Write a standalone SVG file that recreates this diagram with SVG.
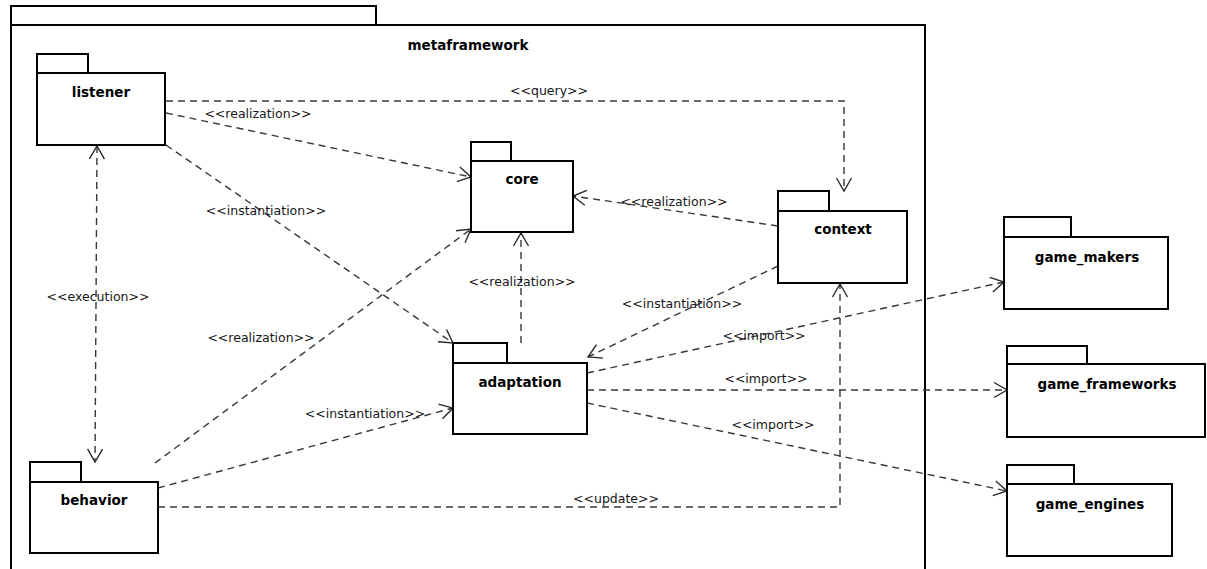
<svg xmlns="http://www.w3.org/2000/svg" width="1207" height="569" viewBox="0 0 1207 569">
  <style>
    .pkg { fill: #ffffff; stroke: #000000; stroke-width: 2; }
    .name { font-family: "DejaVu Sans", "Liberation Sans", sans-serif; font-weight: bold; font-size: 13.5px; fill: #000000; text-anchor: middle; }
    .dep { fill: none; stroke: #35373f; stroke-width: 1.4; stroke-dasharray: 7 5; }
    .lbl { font-family: "DejaVu Sans", "Liberation Sans", sans-serif; font-size: 12.5px; fill: #161616; text-anchor: middle; }
  </style>
  <defs>
    <marker id="open" viewBox="-14 -9 16 18" refX="0" refY="0" markerWidth="16" markerHeight="18" markerUnits="userSpaceOnUse" orient="auto-start-reverse" overflow="visible">
      <path d="M-13,-7.5 L0,0 L-13,7.5" fill="none" stroke="#2a2a2a" stroke-width="1.4"/>
    </marker>
  </defs>
  <rect width="1207" height="569" fill="#ffffff"/>

  <!-- enclosing package -->
  <g id="metaframework">
    <rect class="pkg" x="11" y="6" width="365" height="19"/>
    <rect class="pkg" x="11" y="25" width="914" height="560"/>
    <text class="name" x="468" y="50">metaframework</text>
  </g>

  <!-- dependencies -->
  <g id="connectors">
    <path class="dep" d="M166,101 H844 V191" marker-end="url(#open)"/>
    <path class="dep" d="M166,113 L471,177" marker-end="url(#open)"/>
    <path class="dep" d="M166,145 L453,343" marker-end="url(#open)"/>
    <path class="dep" d="M97,146 L95,462" marker-start="url(#open)" marker-end="url(#open)"/>
    <path class="dep" d="M155,463 L471,229" marker-end="url(#open)"/>
    <path class="dep" d="M158,488 L453,408" marker-end="url(#open)"/>
    <path class="dep" d="M158,507 H840 V284" marker-end="url(#open)"/>
    <path class="dep" d="M778,226 L573,196" marker-end="url(#open)"/>
    <path class="dep" d="M778,266 L588,357" marker-end="url(#open)"/>
    <path class="dep" d="M521,343 L521,233" marker-end="url(#open)"/>
    <path class="dep" d="M587,373 L1004,282" marker-end="url(#open)"/>
    <path class="dep" d="M587,390 L1007,390" marker-end="url(#open)"/>
    <path class="dep" d="M587,403 L1007,491" marker-end="url(#open)"/>

    <text class="lbl" x="549" y="95">&lt;&lt;query&gt;&gt;</text>
    <text class="lbl" x="258" y="118">&lt;&lt;realization&gt;&gt;</text>
    <text class="lbl" x="266" y="215">&lt;&lt;instantiation&gt;&gt;</text>
    <text class="lbl" x="98" y="301">&lt;&lt;execution&gt;&gt;</text>
    <text class="lbl" x="261" y="342">&lt;&lt;realization&gt;&gt;</text>
    <text class="lbl" x="365" y="418">&lt;&lt;instantiation&gt;&gt;</text>
    <text class="lbl" x="674" y="206">&lt;&lt;realization&gt;&gt;</text>
    <text class="lbl" x="522" y="286">&lt;&lt;realization&gt;&gt;</text>
    <text class="lbl" x="682" y="308">&lt;&lt;instantiation&gt;&gt;</text>
    <text class="lbl" x="764" y="340">&lt;&lt;import&gt;&gt;</text>
    <text class="lbl" x="766" y="383">&lt;&lt;import&gt;&gt;</text>
    <text class="lbl" x="773" y="429">&lt;&lt;import&gt;&gt;</text>
    <text class="lbl" x="616" y="503">&lt;&lt;update&gt;&gt;</text>
  </g>

  <!-- packages -->
  <g id="listener">
    <rect class="pkg" x="37" y="54" width="51" height="19"/>
    <rect class="pkg" x="37" y="73" width="128" height="72"/>
    <text class="name" x="101" y="97">listener</text>
  </g>
  <g id="behavior">
    <rect class="pkg" x="30" y="462" width="51" height="20"/>
    <rect class="pkg" x="30" y="482" width="128" height="71"/>
    <text class="name" x="94" y="505">behavior</text>
  </g>
  <g id="core">
    <rect class="pkg" x="471" y="142" width="40" height="19"/>
    <rect class="pkg" x="471" y="161" width="102" height="71"/>
    <text class="name" x="522" y="184">core</text>
  </g>
  <g id="context">
    <rect class="pkg" x="778" y="191" width="51" height="20"/>
    <rect class="pkg" x="778" y="211" width="129" height="72"/>
    <text class="name" x="843" y="234">context</text>
  </g>
  <g id="adaptation">
    <rect class="pkg" x="453" y="343" width="54" height="20"/>
    <rect class="pkg" x="453" y="363" width="134" height="71"/>
    <text class="name" x="520" y="387">adaptation</text>
  </g>
  <g id="game_makers">
    <rect class="pkg" x="1004" y="217" width="67" height="20"/>
    <rect class="pkg" x="1004" y="237" width="164" height="72"/>
    <text class="name" x="1087" y="262">game_makers</text>
  </g>
  <g id="game_frameworks">
    <rect class="pkg" x="1007" y="346" width="80" height="18"/>
    <rect class="pkg" x="1007" y="364" width="198" height="73"/>
    <text class="name" x="1107" y="389">game_frameworks</text>
  </g>
  <g id="game_engines">
    <rect class="pkg" x="1007" y="465" width="67" height="19"/>
    <rect class="pkg" x="1007" y="484" width="165" height="72"/>
    <text class="name" x="1090" y="509">game_engines</text>
  </g>
</svg>
